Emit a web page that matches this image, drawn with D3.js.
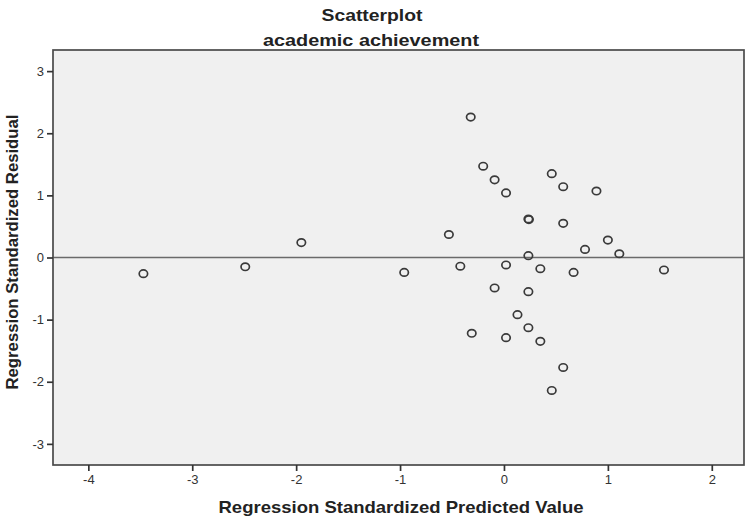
<!DOCTYPE html>
<html>
<head>
<meta charset="utf-8">
<script src="https://cdn.jsdelivr.net/npm/d3@7"></script>
<style>
  body { margin: 0; background: #fff; }
  svg text { font-family: "Liberation Sans", Arial, sans-serif; fill: #222; }
  .title { font-weight: bold; font-size: 17px; }
  .axis-label { font-weight: bold; font-size: 17px; }
  .tick text { font-size: 13px; fill: #333; }
</style>
</head>
<body>
<svg id="chart" width="750" height="519"></svg>
<script>
// predicted (x) and residual (y) values
const predicted = [-3.47, -2.49, -1.95, -0.96, -0.53, -0.42, -0.32, -0.20, -0.09, 0.02,
  -0.31, -0.09, 0.02, 0.02, 0.13, 0.235, 0.24, 0.235, 0.235, 0.235,
  0.35, 0.35, 0.46, 0.46, 0.57, 0.57, 0.57, 0.67, 0.78, 0.89,
  1.00, 1.11, 1.54];
const residual = [-0.26, -0.15, 0.24, -0.24, 0.37, -0.14, 2.26, 1.47, 1.25, 1.04,
  -1.22, -0.49, -0.12, -1.29, -0.92, 0.62, 0.61, 0.03, -0.55, -1.13,
  -0.18, -1.35, 1.35, -2.14, 1.14, 0.55, -1.77, -0.24, 0.13, 1.07,
  0.28, 0.06, -0.20];
const xTicks = [-4, -3, -2, -1, 0, 1, 2];
const yTicks = [-3, -2, -1, 0, 1, 2, 3];

const svg = d3.select('#chart');
const plotLeft = 53, plotRight = 744, plotTop = 50, plotBottom = 465;

const x = d3.scaleLinear().domain([-4.34, 2.31]).range([plotLeft, plotRight]);
const y = d3.scaleLinear().domain([-3.34, 3.34]).range([plotBottom, plotTop]);

// plot background
svg.append('rect')
    .attr('x', plotLeft).attr('y', plotTop)
    .attr('width', plotRight - plotLeft).attr('height', plotBottom - plotTop)
    .attr('fill', '#f0f0f0');

// zero reference line
svg.append('line')
    .attr('x1', plotLeft).attr('x2', plotRight)
    .attr('y1', y(0)).attr('y2', y(0))
    .attr('stroke', '#6a6a6a')
    .attr('stroke-width', 1.6);

// points (the picture is a bit wider than tall, so the rings are too)
svg.append('g')
    .selectAll('ellipse')
    .data(predicted)
    .enter()
    .append('ellipse')
    .attr('cx', d => x(d))
    .attr('cy', (d, i) => y(residual[i]))
    .attr('rx', 4.2)
    .attr('ry', 3.7)
    .attr('fill', 'none')
    .attr('stroke', '#3a3a3a')
    .attr('stroke-width', 1.7);

// frame
svg.append('rect')
    .attr('x', plotLeft).attr('y', plotTop)
    .attr('width', plotRight - plotLeft).attr('height', plotBottom - plotTop)
    .attr('fill', 'none')
    .attr('stroke', '#4a4a4a')
    .attr('stroke-width', 1.7);

const fmt = d => String(d);
const xAxis = svg.append('g')
    .attr('transform', 'translate(0,' + plotBottom + ')')
    .call(d3.axisBottom(x).tickValues(xTicks).tickSize(6).tickPadding(4).tickFormat(fmt));
const yAxis = svg.append('g')
    .attr('transform', 'translate(' + plotLeft + ',0)')
    .call(d3.axisLeft(y).tickValues(yTicks).tickSize(6).tickPadding(3).tickFormat(fmt));

[xAxis, yAxis].forEach(a => {
  a.select('.domain').remove();
  a.selectAll('.tick line').attr('stroke', '#333').attr('stroke-width', 1.7);
  a.selectAll('.tick text').attr('font-family', null).attr('font-size', null);
});

svg.append('text')
    .attr('class', 'title')
    .attr('x', 372).attr('y', 21)
    .attr('text-anchor', 'middle')
    .attr('textLength', 101)
    .attr('lengthAdjust', 'spacingAndGlyphs')
    .text('Scatterplot');
svg.append('text')
    .attr('class', 'title')
    .attr('x', 371).attr('y', 46)
    .attr('text-anchor', 'middle')
    .attr('textLength', 216)
    .attr('lengthAdjust', 'spacingAndGlyphs')
    .text('academic achievement');

svg.append('text')
    .attr('class', 'axis-label')
    .attr('x', 401).attr('y', 513)
    .attr('text-anchor', 'middle')
    .attr('textLength', 365)
    .attr('lengthAdjust', 'spacingAndGlyphs')
    .text('Regression Standardized Predicted Value');
svg.append('text')
    .attr('class', 'axis-label')
    .attr('transform', 'translate(18,252) rotate(-90)')
    .attr('text-anchor', 'middle')
    .attr('textLength', 275)
    .attr('lengthAdjust', 'spacingAndGlyphs')
    .text('Regression Standardized Residual');
</script>
</body>
</html>
